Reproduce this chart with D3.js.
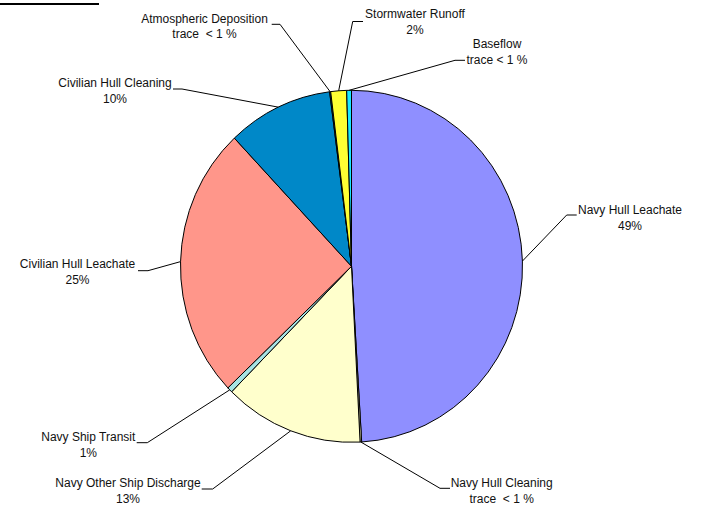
<!DOCTYPE html>
<html>
<head>
<meta charset="utf-8">
<script src="https://cdn.jsdelivr.net/npm/d3@7/dist/d3.min.js"></script>
<style>
  html, body { margin: 0; padding: 0; background: #fff; }
  svg { display: block; }
  text { font-family: Arial, "Liberation Sans", sans-serif; font-size: 12px; fill: #111; white-space: pre; }
</style>
</head>
<body>
<svg id="chart" width="706" height="507"></svg>
<script>
// Copper loading sources, clockwise from 12 o'clock
const categories = [
  "Navy Hull Leachate", "Navy Hull Cleaning", "Navy Other Ship Discharge",
  "Navy Ship Transit", "Civilian Hull Leachate", "Civilian Hull Cleaning",
  "Atmospheric Deposition", "Stormwater Runoff", "Baseflow"
];
const shares = [49.2, 0.15, 13.2, 0.5, 25.2, 10.0, 0.1, 1.5, 0.45];
const shareLabels = ["49%", "trace  < 1 %", "13%", "1%", "25%", "10%", "trace  < 1 %", "2%", "trace < 1 %"];
const colors = ["#8F8FFF", "#FFFFCC", "#FFFFCC", "#A6E3E3", "#FF968A", "#0088C8", "#0088C8", "#FFFF33", "#19E6FF"];

// Label placement: text centre, first baseline, and elbow/end of the leader line
const labelLayout = [
  { cx: 630,   y: 214,   elbow: [566.7, 215],  end: [576.7, 215] },
  { cx: 501.7, y: 487.3, elbow: [440, 488.3],  end: [450, 488.3] },
  { cx: 128,   y: 487.3, elbow: [212.7, 489],  end: [201.7, 489] },
  { cx: 88.3,  y: 441,   elbow: [147.3, 442.7], end: [136.7, 442.7] },
  { cx: 77.5,  y: 268.3, elbow: [148, 270.7],  end: [138, 270.7] },
  { cx: 115,   y: 87.3,  elbow: [182, 89],     end: [173, 89] },
  { cx: 204.5, y: 22.7,  elbow: [280, 24.3],   end: [271.7, 24.3] },
  { cx: 415,   y: 18.3,  elbow: [352.7, 21.5], end: [363, 21.5] },
  { cx: 497,   y: 48.3,  elbow: [455, 60.3],   end: [465, 60.3] }
];

const svg = d3.select("#chart");
const cx = 351.5, cy = 266.3, rx = 171, ry = 176;

// short rule at the top-left corner
svg.append("rect").attr("x", 0).attr("y", 3).attr("width", 99).attr("height", 2).attr("fill", "#000");

const pie = d3.pie().sort(null).value(d => d)(shares);
const arc = d3.arc().innerRadius(0).outerRadius(rx);

const g = svg.append("g").attr("transform", `translate(${cx},${cy}) scale(1,${ry / rx})`);
g.selectAll("path").data(pie).join("path")
  .attr("d", arc)
  .attr("fill", (d, i) => colors[i])
  .attr("stroke", "#000")
  .attr("stroke-width", 1)
  .attr("vector-effect", "non-scaling-stroke")
  .attr("stroke-linejoin", "round");

// point on the pie rim at the middle of each slice
function rimPoint(d) {
  const a = (d.startAngle + d.endAngle) / 2;
  return [cx + rx * Math.sin(a), cy - ry * Math.cos(a)];
}

const line = d3.line();
svg.append("g").selectAll("path").data(pie).join("path")
  .attr("d", (d, i) => line([rimPoint(d), labelLayout[i].elbow, labelLayout[i].end]))
  .attr("fill", "none")
  .attr("stroke", "#000")
  .attr("stroke-width", 1);

const labels = svg.append("g").selectAll("text").data(categories).join("text")
  .attr("text-anchor", "middle")
  .attr("x", (d, i) => labelLayout[i].cx)
  .attr("y", (d, i) => labelLayout[i].y);
labels.append("tspan").text(d => d);
labels.append("tspan")
  .attr("x", (d, i) => labelLayout[i].cx)
  .attr("dy", 15.6)
  .text((d, i) => shareLabels[i]);
</script>
</body>
</html>
